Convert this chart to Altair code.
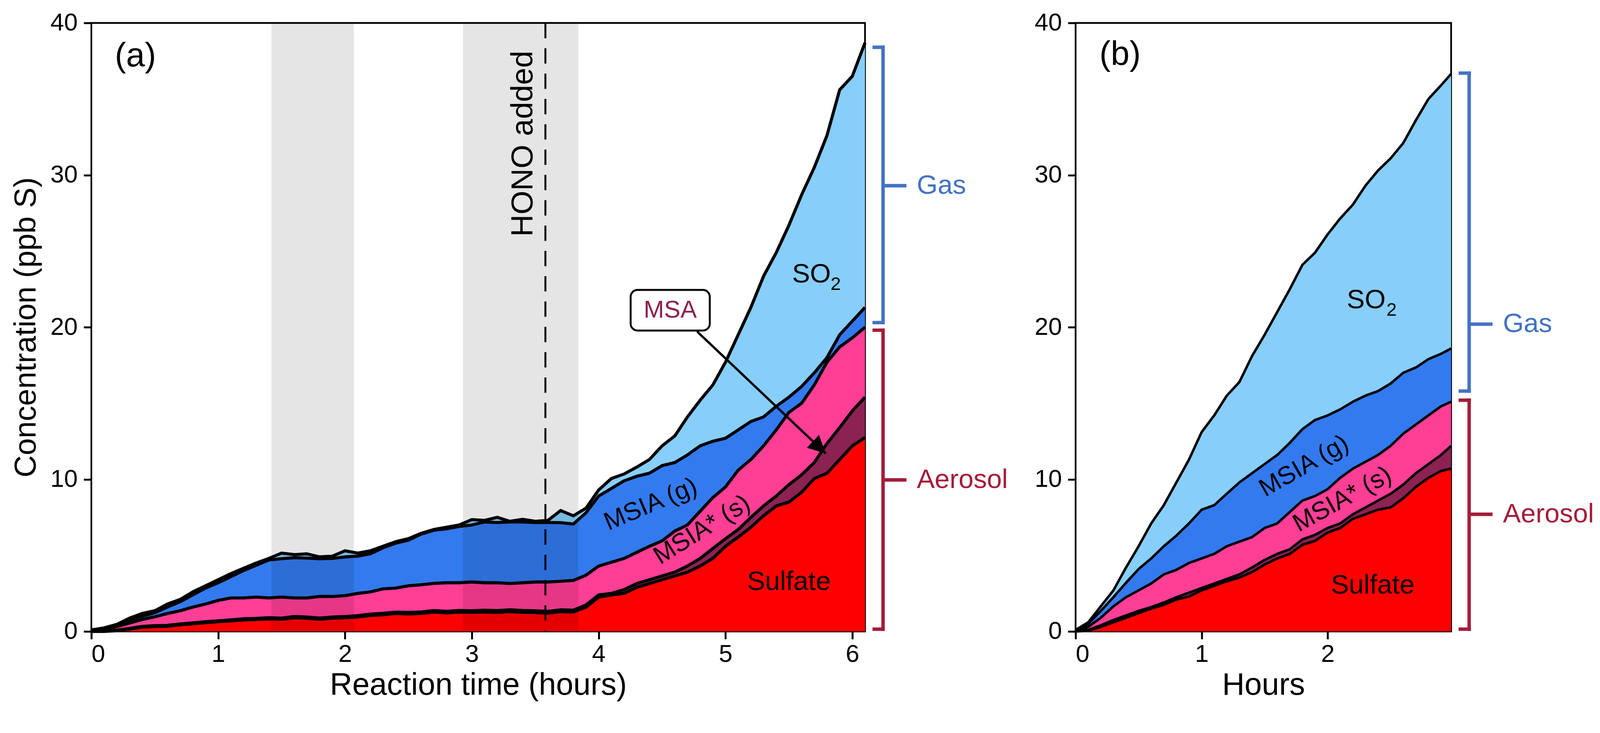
import pandas as pd
import altair as alt

FONT = "Liberation Sans"

# ---- panel (a): reaction time (h) and the upper edge of each stacked layer (ppb S)
TIME_A = [0.0, 0.1, 0.2, 0.3, 0.4, 0.5, 0.6, 0.7, 0.8, 0.9,
          1.0, 1.1, 1.2, 1.3, 1.4, 1.5, 1.6, 1.7, 1.8, 1.9,
          2.0, 2.1, 2.2, 2.3, 2.4, 2.5, 2.6, 2.7, 2.8, 2.9,
          3.0, 3.1, 3.2, 3.3, 3.4, 3.5, 3.6, 3.7, 3.8, 3.9,
          4.0, 4.1, 4.2, 4.3, 4.4, 4.5, 4.6, 4.7, 4.8, 4.9,
          5.0, 5.1, 5.2, 5.3, 5.4, 5.5, 5.6, 5.7, 5.8, 5.9,
          6.0, 6.1]
SULFATE_A = [0.0, 0.0, 0.05, 0.15, 0.28, 0.32, 0.34, 0.43, 0.50, 0.58,
             0.64, 0.69, 0.76, 0.78, 0.82, 0.80, 0.90, 0.87, 0.80, 0.87,
             0.90, 0.95, 1.05, 1.10, 1.18, 1.15, 1.18, 1.27, 1.22, 1.27,
             1.25, 1.28, 1.25, 1.30, 1.26, 1.24, 1.20, 1.30, 1.28, 1.60,
             2.25, 2.40, 2.50, 2.90, 3.15, 3.40, 3.65, 3.90, 4.30, 4.80,
             5.60, 6.20, 6.85, 7.60, 8.25, 8.50, 9.15, 10.05, 10.40, 11.30,
             12.20, 12.75]
MSA_A = [0.0, 0.02, 0.08, 0.20, 0.33, 0.38, 0.40, 0.49, 0.56, 0.64,
         0.70, 0.76, 0.83, 0.86, 0.90, 0.88, 0.98, 0.95, 0.88, 0.95,
         0.98, 1.04, 1.14, 1.19, 1.27, 1.25, 1.28, 1.37, 1.32, 1.38,
         1.36, 1.40, 1.37, 1.42, 1.38, 1.36, 1.32, 1.42, 1.40, 1.74,
         2.40, 2.50, 2.75, 3.15, 3.40, 3.65, 3.90, 4.30, 4.80, 5.45,
         6.10, 6.70, 7.50, 8.25, 8.90, 9.65, 10.30, 11.10, 12.35, 13.40,
         14.50, 15.40]
MSIA_S_A = [0.0, 0.05, 0.32, 0.55, 0.78, 0.96, 1.18, 1.36, 1.60, 1.80,
            2.04, 2.20, 2.20, 2.26, 2.20, 2.26, 2.20, 2.20, 2.30, 2.30,
            2.35, 2.50, 2.60, 2.80, 2.85, 3.00, 3.07, 3.16, 3.20, 3.20,
            3.25, 3.20, 3.20, 3.15, 3.20, 3.25, 3.25, 3.30, 3.35, 3.70,
            4.30, 4.55, 4.80, 5.20, 5.60, 5.95, 6.60, 7.00, 7.90, 8.80,
            9.50, 10.60, 11.30, 12.20, 13.25, 14.40, 15.00, 16.20, 17.70, 18.70,
            19.30, 20.00]
MSIA_G_A = [0.0, 0.10, 0.35, 0.75, 1.00, 1.23, 1.60, 1.95, 2.40, 2.85,
            3.20, 3.60, 4.00, 4.35, 4.70, 4.78, 4.85, 4.82, 4.78, 4.80,
            4.90, 4.95, 5.10, 5.50, 5.80, 6.00, 6.40, 6.65, 6.75, 6.90,
            7.00, 7.20, 7.16, 7.20, 7.20, 7.16, 7.16, 7.15, 7.06, 7.80,
            8.90, 9.40, 9.90, 10.20, 10.40, 10.90, 11.10, 11.60, 12.20, 12.50,
            12.70, 13.25, 13.80, 14.10, 14.80, 15.40, 16.10, 17.00, 18.00, 19.50,
            20.40, 21.30]
SO2_A = [0.10, 0.23, 0.46, 0.87, 1.18, 1.36, 1.80, 2.10, 2.60, 3.00,
         3.40, 3.80, 4.15, 4.50, 4.80, 5.15, 5.05, 5.10, 4.90, 4.95,
         5.30, 5.15, 5.30, 5.60, 5.90, 6.10, 6.45, 6.70, 6.85, 7.00,
         7.35, 7.30, 7.50, 7.24, 7.37, 7.24, 7.30, 7.95, 7.60, 8.10,
         9.30, 10.05, 10.35, 10.80, 11.30, 12.20, 12.85, 14.10, 15.20, 16.20,
         17.70, 19.50, 21.30, 23.35, 24.90, 26.70, 28.70, 30.50, 32.60, 35.60,
         36.50, 38.70]

# ---- panel (b)
TIME_B = [0.0, 0.1, 0.2, 0.3, 0.4, 0.5, 0.6, 0.7, 0.8, 0.9,
          1.0, 1.1, 1.2, 1.3, 1.4, 1.5, 1.6, 1.7, 1.8, 1.9,
          2.0, 2.1, 2.2, 2.3, 2.4, 2.5, 2.6, 2.7, 2.8, 2.9, 2.98]
SULFATE_B = [0.0, 0.05, 0.3, 0.6, 0.9, 1.2, 1.5, 1.75, 2.1, 2.3,
             2.7, 3.0, 3.3, 3.55, 3.9, 4.4, 4.8, 5.1, 5.7, 5.95,
             6.5, 6.8, 7.4, 7.7, 8.0, 8.15, 8.75, 9.5, 10.1, 10.55, 10.7]
MSA_B = [0.0, 0.1, 0.4, 0.75, 1.05, 1.35, 1.6, 1.9, 2.25, 2.55,
         2.85, 3.15, 3.45, 3.75, 4.2, 4.7, 5.1, 5.4, 6.05, 6.35,
         6.8, 7.1, 7.7, 8.15, 8.6, 9.05, 9.65, 10.4, 11.0, 11.6, 12.2]
MSIA_S_B = [0.0, 0.3, 0.9, 1.65, 2.25, 2.7, 3.15, 3.75, 4.05, 4.5,
            4.8, 5.1, 5.6, 5.9, 6.2, 6.8, 7.1, 7.85, 8.6, 8.9,
            9.35, 10.1, 10.7, 11.15, 11.6, 12.2, 13.0, 13.6, 14.2, 14.8, 15.1]
MSIA_G_B = [0.0, 0.5, 1.35, 2.25, 3.2, 4.1, 4.8, 5.6, 6.3, 7.1,
            8.0, 8.3, 9.05, 9.8, 10.4, 11.0, 11.6, 12.4, 13.3, 13.9,
            14.2, 14.6, 15.1, 15.5, 15.8, 16.3, 17.0, 17.35, 17.9, 18.25, 18.6]
SO2_B = [0.1, 0.6, 1.65, 2.7, 4.2, 5.6, 7.1, 8.3, 9.8, 11.3,
         13.1, 14.2, 15.5, 16.4, 18.1, 19.5, 21.0, 22.5, 24.1, 24.9,
         26.1, 27.15, 28.05, 29.3, 30.3, 31.1, 32.1, 33.6, 35.0, 35.9, 36.65]

LAYERS = ["Sulfate", "MSA", "MSIA* (s)", "MSIA (g)", "SO2"]
COLORS = ["#FF0000", "#8B2252", "#FF3E96", "#337AEF", "#87CEFA"]

# dark periods and HONO injection (panel a)
BAND_START = [1.42, 2.93]
BAND_END = [2.07, 3.84]
HONO_TIME = [3.58]

# Gas / Aerosol brackets (ppb S)
BRACKET_LABEL = ["Gas", "Aerosol"]
BRACKET_COLOR = ["#4472C4", "#A51C3A"]
BRACKET_TOP_A = [38.4, 19.8]
BRACKET_BOTTOM_A = [20.3, 0.15]
BRACKET_MID_A = [29.3, 9.96]
BRACKET_TOP_B = [36.7, 15.2]
BRACKET_BOTTOM_B = [15.8, 0.15]
BRACKET_MID_B = [20.2, 7.7]

HEIGHT = 1586
WIDTH_A = 2017
WIDTH_B = 979


def stack_frame(time, tops):
    rows = []
    for i, name in enumerate(LAYERS):
        below = [0.0] * len(time) if i == 0 else tops[i - 1]
        for t, lo, hi in zip(time, below, tops[i]):
            rows.append({"t": t, "lo": lo, "hi": hi, "layer": name})
    return pd.DataFrame(rows)


def make_panel(df, xmax, xticks, width, xtitle, ytitle, line_w, labels, brackets, extra=None):
    xaxis = alt.Axis(title=xtitle, values=xticks, format="d")
    yaxis = alt.Axis(title=ytitle, values=[0, 10, 20, 30, 40], format="d")
    xs = alt.Scale(domain=[0, xmax], nice=False)
    ys = alt.Scale(domain=[0, 40], nice=False)

    def X(f):
        return alt.X(f, type="quantitative", scale=xs, axis=xaxis)

    def Y(f):
        return alt.Y(f, type="quantitative", scale=ys, axis=yaxis)

    base = alt.Chart(df)
    areas = base.mark_area(interpolate="linear", opacity=1).encode(
        x=X("t"), y=Y("hi"), y2="lo",
        color=alt.Color("layer:N", scale=alt.Scale(domain=LAYERS, range=COLORS), legend=None),
    )
    lines = base.mark_line(color="black", strokeWidth=line_w, strokeJoin="round").encode(
        x=X("t"), y=Y("hi"), detail="layer:N"
    )
    layers = [areas]
    if extra is not None:
        layers += extra(X, Y)
    layers.append(lines)

    lab = alt.Chart(labels).mark_text(font=FONT, align="center", baseline="middle").encode(
        x=X("t"), y=Y("v"), text="text:N",
        angle=alt.Angle("angle:Q", scale=None),
        size=alt.Size("size:Q", scale=None),
        color=alt.Color("color:N", scale=None),
    )
    layers.append(lab)

    bk = alt.Chart(brackets)
    col = alt.Color("color:N", scale=None)
    layers += [
        bk.mark_rule(strokeWidth=9, strokeCap="square").encode(
            x=alt.value(width + 47), y=Y("top"), y2="bottom", color=col),
        bk.mark_rule(strokeWidth=9, strokeCap="square").encode(
            x=alt.value(width + 24), x2=alt.value(width + 47), y=Y("top"), color=col),
        bk.mark_rule(strokeWidth=9, strokeCap="square").encode(
            x=alt.value(width + 24), x2=alt.value(width + 47), y=Y("bottom"), color=col),
        bk.mark_rule(strokeWidth=9).encode(
            x=alt.value(width + 47), x2=alt.value(width + 108), y=Y("mid"), color=col),
        bk.mark_text(font=FONT, fontSize=70, align="left", baseline="middle").encode(
            x=alt.value(width + 135), y=Y("mid"), text="label:N", color=col),
    ]
    return alt.layer(*layers).properties(width=width, height=HEIGHT)


def extra_a(X, Y):
    bands = alt.Chart(pd.DataFrame({"start": BAND_START, "end": BAND_END})).mark_rect(
        color="black", opacity=0.1
    ).encode(x=X("start"), x2="end", y=alt.value(0), y2=alt.value(HEIGHT))
    hono = alt.Chart(pd.DataFrame({"t": HONO_TIME})).mark_rule(
        color="black", strokeWidth=5, strokeDash=[40, 26]
    ).encode(x=X("t"), y=alt.value(0), y2=alt.value(HEIGHT))
    arrow_df = pd.DataFrame({"t": [4.776], "v": [19.72], "t2": [5.79], "v2": [11.7]})
    arrow = alt.Chart(arrow_df).mark_rule(color="black", strokeWidth=6).encode(
        x=X("t"), y=Y("v"), x2="t2", y2="v2")
    head = alt.Chart(arrow_df).mark_point(
        shape="M0,0L1,2L-1,2Z", size=2100, angle=133.5, filled=True, color="black", opacity=1
    ).encode(x=X("t2"), y=Y("v2"))
    box = alt.Chart(pd.DataFrame({"t0": [4.252], "t1": [4.876], "v0": [19.78], "v1": [22.45]})).mark_rect(
        fill="white", stroke="black", strokeWidth=5, cornerRadius=18
    ).encode(x=X("t0"), x2="t1", y=Y("v0"), y2="v1")
    return [bands, hono, arrow, head, box]


labels_a = pd.DataFrame({
    "text": ["(a)", "HONO added", "SO", "2", "MSIA (g)", "MSIA* (s)", "Sulfate", "MSA"],
    "t": [0.348, 3.405, 5.678, 5.869, 4.41, 4.815, 5.50, 4.564],
    "v": [37.8, 32.06, 23.46, 22.8, 8.35, 6.68, 3.25, 21.1],
    "angle": [0, 270, 0, 0, 337, 328, 0, 0],
    "size": [88, 80, 70, 48, 66, 66, 70, 64],
    "color": ["black"] * 7 + ["#8B2252"],
})
labels_b = pd.DataFrame({
    "text": ["(b)", "SO", "2", "MSIA (g)", "MSIA* (s)", "Sulfate"],
    "t": [0.353, 2.306, 2.507, 1.813, 2.117, 2.358],
    "v": [37.9, 21.77, 21.1, 10.87, 8.68, 3.03],
    "angle": [0, 0, 0, 330, 331, 0],
    "size": [88, 70, 48, 66, 66, 70],
    "color": ["black"] * 6,
})
brackets_a = pd.DataFrame({"label": BRACKET_LABEL, "color": BRACKET_COLOR,
                           "top": BRACKET_TOP_A, "bottom": BRACKET_BOTTOM_A, "mid": BRACKET_MID_A})
brackets_b = pd.DataFrame({"label": BRACKET_LABEL, "color": BRACKET_COLOR,
                           "top": BRACKET_TOP_B, "bottom": BRACKET_BOTTOM_B, "mid": BRACKET_MID_B})

panel_a = make_panel(
    stack_frame(TIME_A, [SULFATE_A, MSA_A, MSIA_S_A, MSIA_G_A, SO2_A]),
    6.1, [0, 1, 2, 3, 4, 5, 6], WIDTH_A, "Reaction time (hours)", "Concentration (ppb S)",
    8, labels_a, brackets_a, extra_a,
)
panel_b = make_panel(
    stack_frame(TIME_B, [SULFATE_B, MSA_B, MSIA_S_B, MSIA_G_B, SO2_B]),
    2.98, [0, 1, 2], WIDTH_B, "Hours", "",
    6.5, labels_b, brackets_b,
)

chart = (
    alt.hconcat(panel_a, panel_b, spacing=64)
    .properties(padding={"left": 17, "top": 0, "right": 5, "bottom": 5})
    .configure(font=FONT)
    .configure_view(stroke="black", strokeWidth=4.5)
    .configure_axis(
        domain=False, grid=False,
        ticks=True, tickSize=20, tickWidth=5, tickColor="black",
        labelFont=FONT, labelFontSize=64, labelColor="black",
        titleFont=FONT, titleColor="black", titleFontWeight="normal",
    )
    .configure_axisX(titleFontSize=81, titlePadding=8, labelPadding=8)
    .configure_axisY(titleFontSize=80, titlePadding=22, labelPadding=16)
)

chart.save("out.html", embed_options={"renderer": "svg", "actions": False})
